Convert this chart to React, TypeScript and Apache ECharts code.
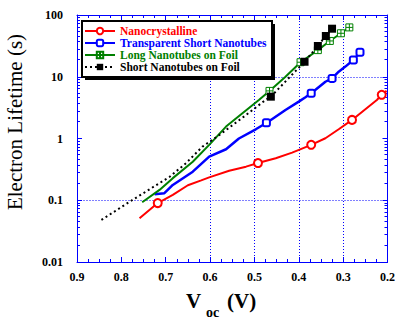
import React, { useEffect, useRef } from "react";
import * as echarts from "echarts";

// Nanocrystalline
const nanoV = [0.759, 0.718, 0.684, 0.65, 0.62, 0.602, 0.557, 0.519, 0.492, 0.452, 0.415, 0.372, 0.34, 0.31, 0.28, 0.224, 0.213, 0.202];
const nanoTau = [0.051, 0.09, 0.122, 0.175, 0.21, 0.235, 0.3, 0.35, 0.4, 0.48, 0.59, 0.79, 1.01, 1.41, 2.0, 4.2, 5.1, 5.9];
const nanoMarks = [1, 8, 11, 14, 16];

// Transparent Short Nanotubes
const transV = [0.725, 0.703, 0.684, 0.639, 0.602, 0.564, 0.535, 0.497, 0.478, 0.473, 0.463, 0.43, 0.4, 0.385, 0.372, 0.34, 0.325, 0.31, 0.295, 0.277, 0.262];
const transTau = [0.125, 0.13, 0.177, 0.29, 0.51, 0.67, 1.0, 1.41, 1.7, 1.8, 2.0, 2.9, 3.95, 4.66, 5.4, 8.3, 9.4, 12.1, 14.6, 18.7, 24.9];
const transMarks = [9, 14, 16, 19, 20];

// Long Nanotubes on Foil
const longV = [0.753, 0.714, 0.684, 0.639, 0.602, 0.564, 0.527, 0.49, 0.466, 0.43, 0.396, 0.357, 0.33, 0.305, 0.286];
const longTau = [0.093, 0.147, 0.228, 0.42, 0.79, 1.56, 2.57, 4.2, 5.9, 10.0, 17.2, 27, 38, 50.6, 63];
const longMarks = [8, 10, 11, 12, 13, 14];

// Short Nanotubes on Foil
const shortV = [0.845, 0.781, 0.691, 0.654, 0.617, 0.579, 0.519, 0.475, 0.463, 0.387, 0.357, 0.339, 0.325];
const shortTau = [0.048, 0.095, 0.24, 0.4, 0.74, 1.14, 2.4, 4.2, 4.76, 17.5, 31.5, 45.7, 60];
const shortMarks = [8, 9, 10, 11, 12];

const seriesNames = ["Nanocrystalline", "Transparent Short Nanotubes", "Long Nanotubes on Foil", "Short Nanotubes on Foil"];
const seriesColors = ["#ff0000", "#0000ff", "#008000", "#000000"];

const gridX = [0.6, 0.5, 0.4, 0.3];
const gridY = [10, 0.1];

const FONT = "'Liberation Serif', 'Times New Roman', serif";
const BLUE = "#0000ff";

function build(vs: number[], ts: number[], marks: number[]) {
  return vs.map((v, i) => {
    const item: any = { value: [v, ts[i]] };
    if (!marks.includes(i)) item.symbol = "none";
    return item;
  });
}

export default function App() {
  const ref = useRef<HTMLDivElement>(null);
  useEffect(() => {
    if (!ref.current) return;
    const chart = echarts.init(ref.current, undefined, { renderer: "svg" });
    const axisCommonX = {
      type: "value",
      min: 0.2,
      max: 0.9,
      interval: 0.1,
      inverse: true,
      splitLine: { show: false },
      axisLine: { show: true, lineStyle: { color: BLUE, width: 1 } },
      axisTick: { show: true, inside: true, length: 5, lineStyle: { color: BLUE } },
      minorTick: { show: true, splitNumber: 4, length: 3, lineStyle: { color: BLUE } },
    };
    const axisCommonY = {
      type: "log",
      min: 0.01,
      max: 100,
      logBase: 10,
      splitLine: { show: false },
      axisLine: { show: true, lineStyle: { color: BLUE, width: 1 } },
      axisTick: { show: true, inside: true, length: 5, lineStyle: { color: BLUE } },
      minorTick: { show: true, splitNumber: 10, length: 3, lineStyle: { color: BLUE } },
    };
    const option: any = {
      animation: false,
      grid: { left: 77, right: 9, top: 15, bottom: 65 },
      xAxis: [
        {
          ...axisCommonX,
          position: "bottom",
          axisLabel: { show: true, margin: 9, color: "#000", fontFamily: FONT, fontWeight: "bold", fontSize: 12 },
        },
        { ...axisCommonX, position: "top", axisLabel: { show: false } },
      ],
      yAxis: [
        {
          ...axisCommonY,
          position: "left",
          axisLabel: { show: true, margin: 14, color: "#000", fontFamily: FONT, fontWeight: "bold", fontSize: 12 },
        },
        { ...axisCommonY, position: "right", axisLabel: { show: false } },
      ],
      legend: {
        orient: "vertical",
        left: 84,
        top: 25,
        padding: 0,
        itemGap: 0,
        itemWidth: 30,
        itemHeight: 8,
        z: 5,
        data: seriesNames.map((n, i) => ({
          name: n,
          textStyle: { color: seriesColors[i], fontFamily: FONT, fontWeight: "bold", fontSize: 11.5, lineHeight: 12 },
        })),
      },
      graphic: [
        { type: "rect", z: 3, shape: { x: 85, y: 24, width: 190, height: 56 }, style: { fill: "#000" } },
        { type: "rect", z: 3, shape: { x: 82, y: 21, width: 190, height: 56 }, style: { fill: "#fff", stroke: "#000", lineWidth: 2 } },
        {
          type: "text",
          x: 15,
          y: 122,
          rotation: Math.PI / 2,
          style: { text: "Electron Lifetime (s)", font: `21px ${FONT}`, fill: "#000", align: "center", verticalAlign: "middle" },
        },
        { type: "text", x: 186, y: 311, style: { text: "V", font: `bold 21px ${FONT}`, fill: "#000", verticalAlign: "bottom" } },
        { type: "text", x: 206, y: 319, style: { text: "oc", font: `bold 14px ${FONT}`, fill: "#000", verticalAlign: "bottom" } },
        { type: "text", x: 227, y: 311, style: { text: "(V)", font: `bold 21px ${FONT}`, fill: "#000", verticalAlign: "bottom" } },
      ],
      series: [
        {
          name: seriesNames[0],
          type: "line",
          xAxisIndex: 0,
          yAxisIndex: 0,
          data: build(nanoV, nanoTau, nanoMarks),
          symbol: "emptyCircle",
          symbolSize: 8,
          showSymbol: true,
          lineStyle: { color: seriesColors[0], width: 2 },
          itemStyle: { color: seriesColors[0], borderColor: seriesColors[0], borderWidth: 1 },
          z: 3,
          markLine: {
            silent: true,
            symbol: ["none", "none"],
            label: { show: false },
            lineStyle: { color: BLUE, type: [1, 2], width: 1 },
            data: [...gridX.map((x) => ({ xAxis: x })), ...gridY.map((y) => ({ yAxis: y }))],
            z: 1,
          },
        },
        {
          name: seriesNames[1],
          type: "line",
          data: build(transV, transTau, transMarks),
          symbol: "emptyRoundRect",
          symbolSize: 7,
          showSymbol: true,
          lineStyle: { color: seriesColors[1], width: 2.5 },
          itemStyle: { color: seriesColors[1], borderColor: seriesColors[1], borderWidth: 1.5 },
          z: 3,
        },
        {
          name: seriesNames[2],
          type: "line",
          data: build(longV, longTau, longMarks),
          symbol: "path://M0 0H10V10H0Z M5 0V10 M0 5H10",
          symbolSize: 7,
          showSymbol: true,
          lineStyle: { color: seriesColors[2], width: 2 },
          itemStyle: { color: "#fff", borderColor: seriesColors[2], borderWidth: 1 },
          z: 3,
        },
        {
          name: seriesNames[3],
          type: "line",
          data: build(shortV, shortTau, shortMarks),
          symbol: "rect",
          symbolSize: 8,
          showSymbol: true,
          lineStyle: { color: seriesColors[3], width: 2, type: [2, 3] },
          itemStyle: { color: seriesColors[3] },
          z: 3,
        },
      ],
    };
    chart.setOption(option);
    return () => chart.dispose();
  }, []);
  return <div ref={ref} style={{ width: 398, height: 327, position: "absolute", left: 0, top: 0 }} />;
}
